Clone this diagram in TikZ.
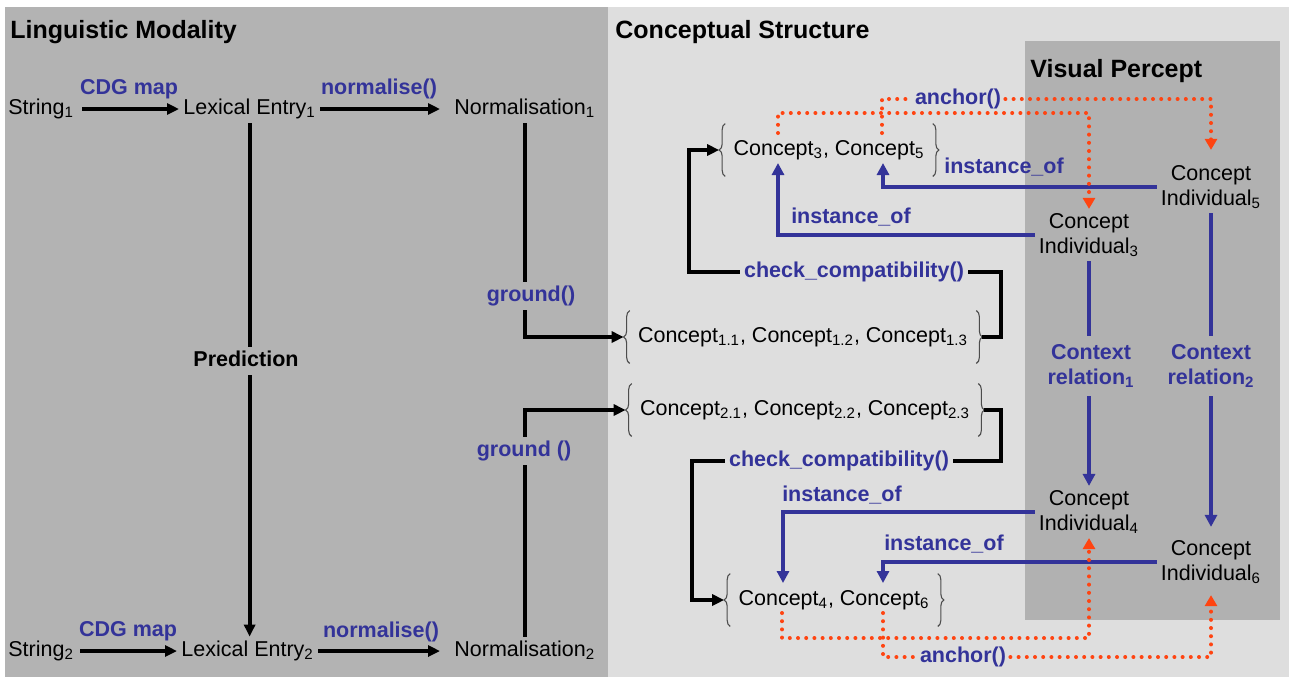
\documentclass[tikz,border=0pt]{standalone}
\usepackage{fontspec}
\setmainfont{Liberation Sans}
\usetikzlibrary{arrows.meta,decorations.pathreplacing,calc}
\definecolor{leftgrey}{HTML}{B3B3B3}
\definecolor{rightgrey}{HTML}{DEDEDE}
\definecolor{vpgrey}{HTML}{B1B1B1}
\definecolor{lblue}{HTML}{333399}
\definecolor{dorange}{HTML}{FF4411}
\begin{document}
\begin{tikzpicture}[x=0.5pt,y=-0.5pt,
  every node/.style={font=\fontsize{10.75pt}{12.5pt}\selectfont, inner sep=2pt},
  txt/.style={text height=0.75em, text depth=0.25em},
  lbl/.style={txt, text=lblue, font=\fontsize{10.75pt}{12.5pt}\selectfont\bfseries},
  lbltwo/.style={align=center, text=lblue, font=\fontsize{10.75pt}{12.5pt}\selectfont\bfseries, inner ysep=4pt},
  titletext/.style={anchor=west, font=\fontsize{12.5pt}{15pt}\selectfont\bfseries},
  cset/.style={txt, minimum height=26pt, inner xsep=4pt},
  cind/.style={align=center},
  brc/.style={decorate, decoration={brace, amplitude=3pt}, line width=0.55pt, draw=black!70},
  blk/.style={line width=2pt},
  blkarrow/.style={blk, -{Triangle[length=6pt,width=5.5pt]}},
  bline/.style={line width=2pt, draw=lblue},
  barrow/.style={bline, -{Triangle[length=6pt,width=6pt]}},
  odots/.style={draw=dorange, line width=2pt, line cap=round, dash pattern=on 0pt off 4.1pt},
  oarrow/.style={odots, -{Triangle[length=5.5pt,width=6pt]}},
]
% backgrounds
\useasboundingbox (0,0) rectangle (1290,677);
\fill[white] (0,0) rectangle (1290,677);
\fill[leftgrey] (5,7) rectangle (608,677);
\fill[rightgrey] (608,7) rectangle (1289,677);
\fill[vpgrey] (1025,41) rectangle (1280,620);

% titles
\node[titletext] (tLM) at (6,32) {Linguistic Modality};
\node[titletext] (tCS) at (611,32) {Conceptual Structure};
\node[titletext] (tVP) at (1026,71) {Visual Percept};

% linguistic nodes
\node[txt, anchor=west] (s1) at (4,109) {String\textsubscript{1}};
\node[txt, anchor=west] (le1) at (179,109) {Lexical Entry\textsubscript{1}};
\node[txt, anchor=west] (n1) at (450,109) {Normalisation\textsubscript{1}};
\node[txt, anchor=west] (s2) at (4,651) {String\textsubscript{2}};
\node[txt, anchor=west] (le2) at (177,651) {Lexical Entry\textsubscript{2}};
\node[txt, anchor=west] (n2) at (450,651) {Normalisation\textsubscript{2}};

% labels
\node[lbl] (cdg1) at (129,89) {CDG map};
\node[lbl] (nm1) at (379,89) {normalise()};
\node[lbl] (cdg2) at (128,631) {CDG map};
\node[lbl] (nm2) at (381,632) {normalise()};
\node[lbl, text=black] (pred) at (246,361) {Prediction};
\node[lbl] (g1) at (531,296) {ground()};
\node[lbl] (g2) at (524,451) {ground ()};

% concept sets
\node[cset] (setA) at (829,150) {Concept\textsubscript{3}, Concept\textsubscript{5}};
\node[cset] (setB) at (803,337) {Concept\textsubscript{1.1}, Concept\textsubscript{1.2}, Concept\textsubscript{1.3}};
\node[cset] (setC) at (805,410) {Concept\textsubscript{2.1}, Concept\textsubscript{2.2}, Concept\textsubscript{2.3}};
\node[cset] (setD) at (834,600) {Concept\textsubscript{4}, Concept\textsubscript{6}};
\foreach \s in {setA,setB,setC,setD} {
  \draw[brc] (\s.south west) -- (\s.north west);
  \draw[brc] (\s.north east) -- (\s.south east);
}
\node[lbl] (cc1) at (854,272) {check\_compatibility()};
\node[lbl] (cc2) at (839,461) {check\_compatibility()};

% concept individuals
\node[cind] (ci5) at (1211,187) {Concept\\Individual\textsubscript{5}};
\node[cind] (ci3) at (1089,235) {Concept\\Individual\textsubscript{3}};
\node[cind] (ci4) at (1089,512) {Concept\\Individual\textsubscript{4}};
\node[cind] (ci6) at (1211,562) {Concept\\Individual\textsubscript{6}};
\node[lbltwo] (ctx1) at (1091,366) {Context\\relation\textsubscript{1}};
\node[lbltwo] (ctx2) at (1211,366) {Context\\relation\textsubscript{2}};
\node[lbl] (il5) at (1004,168) {instance\_of};
\node[lbl] (il3) at (851,218) {instance\_of};
\node[lbl] (il4) at (842,496) {instance\_of};
\node[lbl] (il6) at (944,545) {instance\_of};
\node[lbl] (anc1) at (958,99) {anchor()};
\node[lbl] (anc2) at (963,657) {anchor()};

% named free ends
\coordinate (ck1R) at (1001,272);
\coordinate (ck1L) at (689,272);
\coordinate (ck2R) at (1001,461);
\coordinate (ck2L) at (692,461);
\coordinate (c3) at (778,163);
\coordinate (c5) at (883,163);
\coordinate (c4) at (783,583);
\coordinate (c6) at (883,583);
\coordinate (a3) at (778,133);
\coordinate (a5) at (882,133);
\coordinate (a4) at (782,613);
\coordinate (a6) at (883,613);

% black connectors
\draw[blkarrow, shorten <=2pt] (s1.east) -- (le1.west);
\draw[blkarrow, shorten >=5pt] (le1.east) -- (n1.west);
\draw[blkarrow, shorten <=1pt] (s2.east) -- (le2.west);
\draw[blkarrow, shorten >=5pt] (le2.east) -- (n2.west);
\draw[blk] (le1.south) -- (le1.south |- pred.north);
\draw[blkarrow] (le1.south |- pred.south) -- (le1.south |- le2.north);
\draw[blk] (n1.south) -- (n1.south |- g1.north);
\draw[blkarrow, shorten >=3pt] (n1.south |- g1.south) |- (setB.west);
\draw[blk] (n2.north) -- (n2.north |- g2.south);
\draw[blkarrow, shorten >=3pt] (n2.north |- g2.north) |- (setC.west);
\draw[blk] ([xshift=3pt]setB.east) -| (ck1R) -- (cc1.east);
\draw[blkarrow, shorten >=3pt] (cc1.west) -- (ck1L) |- (setA.west);
\draw[blk] ([xshift=3pt]setC.east) -| (ck2R) -- (cc2.east);
\draw[blkarrow, shorten >=3pt] (cc2.west) -- (ck2L) |- (setD.west);

% blue connectors
\draw[barrow] (ci5.west) -| (c5);
\draw[barrow] (ci3.west) -| (c3);
\draw[barrow] (ci4.west) -| (c4);
\draw[barrow] (ci6.west) -| (c6);
\draw[bline] (ci3.south) -- (ci3.south |- ctx1.north);
\draw[barrow] (ci3.south |- ctx1.south) -- (ci4.north);
\draw[bline] (ci5.south) -- (ci5.south |- ctx2.north);
\draw[barrow, shorten >=4.5pt] (ci5.south |- ctx2.south) -- (ci6.north);

% orange dotted anchors
\draw[oarrow] (a3) -- ++(0,-20) -| (ci3.north);
\draw[odots] (a5) |- (anc1.west);
\draw[oarrow, shorten >=5.5pt] (anc1.east) -| (ci5.north);
\draw[oarrow] (a4) -- ++(0,25) -| (ci4.south);
\draw[odots] (a6) |- (anc2.west);
\draw[oarrow, shorten >=3.5pt] (anc2.east) -| (ci6.south);
\end{tikzpicture}
\end{document}
